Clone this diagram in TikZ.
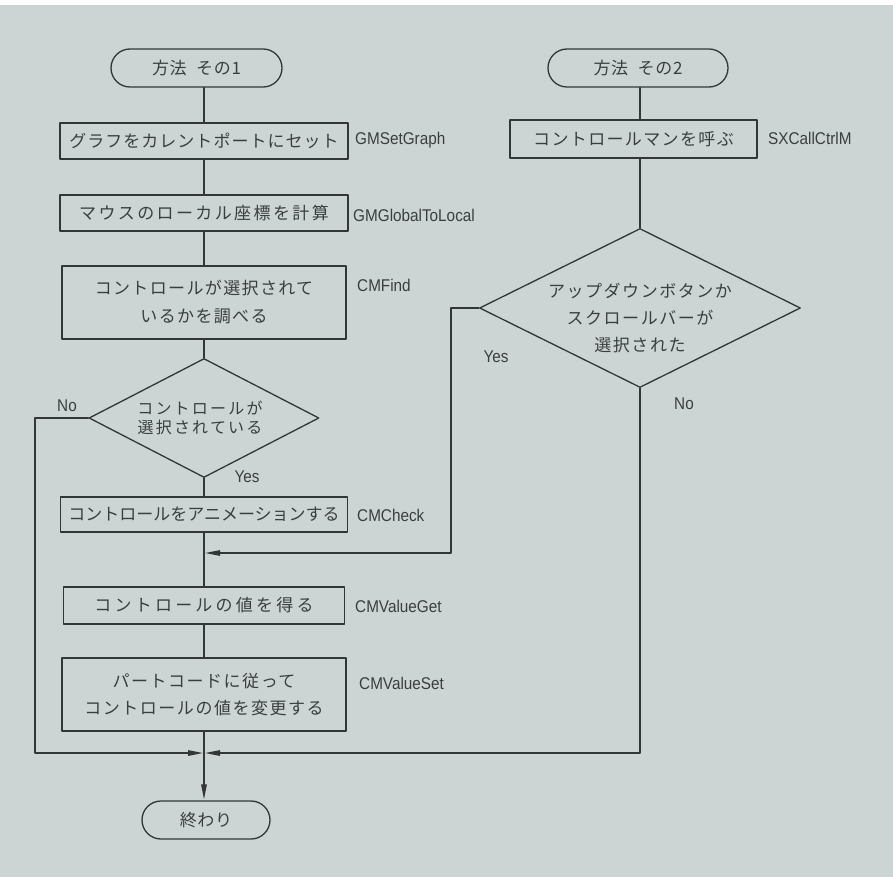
\documentclass[tikz,border=0pt]{standalone}
\usepackage{fontspec}
\setmainfont{Liberation Sans}
\newfontfamily\jpfont{Noto Sans CJK JP}
\newfontfamily\labfont[FakeStretch=0.9]{Liberation Sans}
\usetikzlibrary{shapes.geometric,arrows.meta}
\definecolor{Pbg}{RGB}{205,213,212}
\definecolor{Ink}{RGB}{50,54,54}
\definecolor{Txt}{RGB}{58,62,62}

\begin{document}
\begin{tikzpicture}[x=1pt,y=-1pt,line cap=round,line join=round,
  track/.style={font=\jpfont\fontsize{17}{28}\selectfont\addfontfeature{LetterSpace=#1}},
  flow/.style={draw=Ink,line width=1.3pt},
  arr/.style={flow,-{Triangle[length=15pt,width=5.5pt]},shorten >=1pt},
  proc/.style={rectangle,draw=Ink,line width=1.3pt,inner sep=0pt,align=center,text=Txt,track=8},
  term/.style={rectangle,rounded corners=19pt,draw=Ink,line width=1.3pt,minimum height=38pt,inner sep=0pt,text=Txt,track=4},
  decision/.style={diamond,draw=Ink,line width=1.3pt,inner sep=0pt},
  dtext/.style={align=center,text=Txt,inner sep=0pt},
  fname/.style={anchor=west,inner sep=0pt,text=Txt,font=\labfont\fontsize{17}{20}\selectfont},
  yn/.style={inner sep=0pt,text=Txt,font=\labfont\fontsize{17}{20}\selectfont}]
\path[use as bounding box] (0,0) rectangle (893,877);
\fill[Pbg] (0,5) rectangle (893,877);
\node[term,minimum width=171pt] (start1) at (196.5,68) {方法\hspace{5pt} その1};
\node[term,minimum width=180pt] (start2) at (638,68) {方法\hspace{5pt} その2};
\node[proc,minimum width=288pt,minimum height=36pt,track=6] (setgraph) at (204,141) {グラフをカレントポートにセット};
\node[fname] (setgraphname) at (355,140) {GMSetGraph};
\node[proc,minimum width=288pt,minimum height=36pt,track=14] (tolocal) at (204,213) {マウスのローカル座標を計算};
\node[fname] (tolocalname) at (353,215) {GMGlobalToLocal};
\node[proc,minimum width=284pt,minimum height=73pt] (find) at (204,302.5) {コントロールが選択されて\\いるかを調べる};
\node[fname] (findname) at (357,285) {CMFind};
\node[decision,minimum width=230pt,minimum height=119pt,
  label={[dtext,xshift=-4pt,font=\jpfont\fontsize{16}{18.5}\selectfont\addfontfeature{LetterSpace=14}]center:コントロールが\\選択されている}] (sel1) at (204,418) {};
\node[proc,minimum width=287pt,minimum height=35pt,track=0] (check) at (204,514.5) {コントロールをアニメーションする};
\node[fname] (checkname) at (357,515) {CMCheck};
\node[proc,minimum width=281pt,minimum height=37pt,track=19] (valget) at (204,605.5) {コントロールの値を得る};
\node[fname] (valgetname) at (355,606) {CMValueGet};
\node[proc,minimum width=284pt,minimum height=73pt,font=\jpfont\fontsize{17}{27}\selectfont\addfontfeature{LetterSpace=9}] (valset) at (204,694.5) {パートコードに従って\\コントロールの値を変更する};
\node[fname] (valsetname) at (359,683) {CMValueSet};
\node[term,minimum width=128pt] (finish) at (206,820) {終わり};
\node[proc,minimum width=247pt,minimum height=38pt] (callctrl) at (633.5,139) {コントロールマンを呼ぶ};
\node[fname] (callctrlname) at (768,138) {SXCallCtrlM};
\node[decision,minimum width=321pt,minimum height=159pt,
  label={[dtext,yshift=-10pt,font=\jpfont\fontsize{17}{27}\selectfont\addfontfeature{LetterSpace=9}]center:アップダウンボタンか\\スクロールバーが\\選択された}] (sel2) at (640,308) {};
\node[yn] (no1) at (67,406) {No};
\node[yn] (yes1) at (247,477) {Yes};
\node[yn] (yes2) at (496,357) {Yes};
\node[yn] (no2) at (684,404) {No};
\coordinate (join1) at (204,553);
\coordinate (join2) at (204,753);
\coordinate (yesturn) at (451,553);
\coordinate (noturn) at (35,753);
\draw[flow] (setgraph.north |- start1.south) -- (setgraph.north);
\draw[flow] (setgraph) -- (tolocal);
\draw[flow] (tolocal) -- (find);
\draw[flow] (find) -- (sel1);
\draw[flow] (sel1) -- (check);
\draw[flow] (check) -- (valget);
\draw[flow] (valget) -- (valset);
\draw[arr] (valset.south) -- (valset.south |- finish.north);
\draw[arr] (sel1.west) -| (noturn) -- (join2);
\draw[arr] (sel2.south) |- (join2);
\draw[arr] (sel2.west) -| (yesturn) -- (join1);
\draw[flow] (sel2.north |- start2.south) -- (sel2.north |- callctrl.north);
\draw[flow] (sel2.north |- callctrl.south) -- (sel2.north);
\end{tikzpicture}
\end{document}
